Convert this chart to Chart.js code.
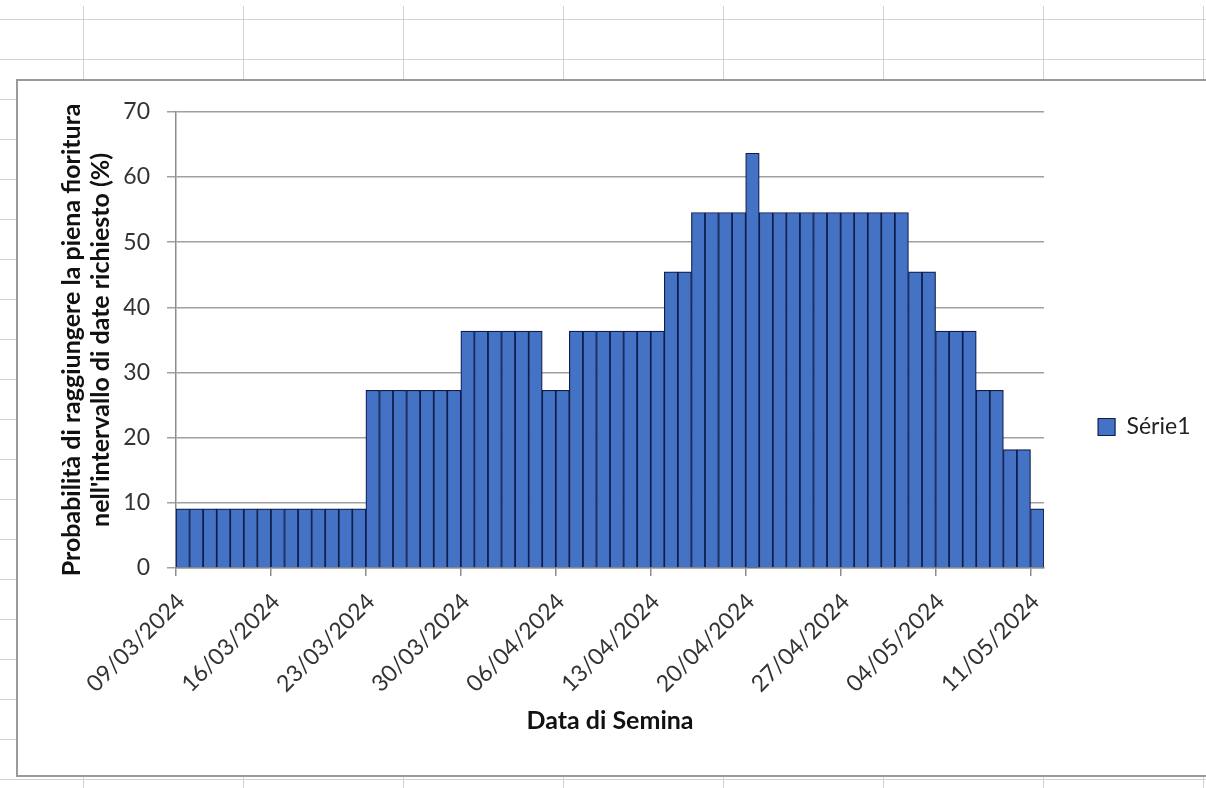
<!DOCTYPE html>
<html>
<head>
<meta charset="utf-8">
<script src="https://cdn.jsdelivr.net/npm/chart.js@4/dist/chart.umd.min.js"></script>
<style>
  html, body { margin: 0; padding: 0; }
  body {
    width: 1206px; height: 788px; overflow: hidden; position: relative;
    background-color: #fff;
    background-image:
      linear-gradient(to right, #d2d2d2 1px, transparent 1px),
      linear-gradient(to bottom, #d2d2d2 1px, transparent 1px);
    background-size: 160px 788px, 1206px 40px;
    background-position: 83px 6px, 0 19px;
    background-repeat: repeat-x, repeat-y;
  }
  #frame {
    position: absolute; left: 16px; top: 79px; width: 1200px; height: 694px;
    border: 2px solid #9a9a9a; background: #fff;
  }
  #chart { position: absolute; left: 18px; top: 81px; }
</style>
</head>
<body>
<div id="frame"></div>
<canvas id="chart" width="1188" height="692"></canvas>
<script>
// Sowing dates (one bar per day)
const dates = [
  '09/03/2024','10/03/2024','11/03/2024','12/03/2024','13/03/2024','14/03/2024','15/03/2024',
  '16/03/2024','17/03/2024','18/03/2024','19/03/2024','20/03/2024','21/03/2024','22/03/2024',
  '23/03/2024','24/03/2024','25/03/2024','26/03/2024','27/03/2024','28/03/2024','29/03/2024',
  '30/03/2024','31/03/2024','01/04/2024','02/04/2024','03/04/2024','04/04/2024','05/04/2024',
  '06/04/2024','07/04/2024','08/04/2024','09/04/2024','10/04/2024','11/04/2024','12/04/2024',
  '13/04/2024','14/04/2024','15/04/2024','16/04/2024','17/04/2024','18/04/2024','19/04/2024',
  '20/04/2024','21/04/2024','22/04/2024','23/04/2024','24/04/2024','25/04/2024','26/04/2024',
  '27/04/2024','28/04/2024','29/04/2024','30/04/2024','01/05/2024','02/05/2024','03/05/2024',
  '04/05/2024','05/05/2024','06/05/2024','07/05/2024','08/05/2024','09/05/2024','10/05/2024',
  '11/05/2024'
];

// Probability (%) of full flowering within the requested date window
const serie1 = [
  9.09, 9.09, 9.09, 9.09, 9.09, 9.09, 9.09,
  9.09, 9.09, 9.09, 9.09, 9.09, 9.09, 9.09,
  27.27, 27.27, 27.27, 27.27, 27.27, 27.27, 27.27,
  36.36, 36.36, 36.36, 36.36, 36.36, 36.36, 27.27,
  27.27, 36.36, 36.36, 36.36, 36.36, 36.36, 36.36,
  36.36, 45.45, 45.45, 54.55, 54.55, 54.55, 54.55,
  63.64, 54.55, 54.55, 54.55, 54.55, 54.55, 54.55,
  54.55, 54.55, 54.55, 54.55, 54.55, 45.45, 45.45,
  36.36, 36.36, 36.36, 27.27, 27.27, 18.18, 18.18,
  9.09
];

const seriesName = 'Série1';
const xTitle = 'Data di Semina';
const yTitle = ['Probabilità di raggiungere la piena fioritura', "nell'intervallo di date richiesto (%)"];
const yTicks = { min: 0, max: 70, step: 10 };
const xTickStep = 7;

const FONT = 'Lato, "Open Sans", sans-serif';

new Chart(document.getElementById('chart'), {
  type: 'bar',
  data: {
    datasets: [{
      label: seriesName,
      data: serie1.map((v, i) => ({ x: i + 0.5, y: v })),
      backgroundColor: '#4472c4',
      borderColor: '#0f1d4d',
      borderWidth: 1.2,
      borderSkipped: 'bottom',
      barPercentage: 1,
      categoryPercentage: 1
    }]
  },
  options: {
    responsive: false,
    animation: false,
    layout: { padding: { left: 0, top: 27, right: 5.5, bottom: 27 } },
    plugins: {
      tooltip: { enabled: false },
      legend: {
        position: 'right',
        labels: {
          font: { family: FONT, size: 23 },
          color: '#222',
          boxWidth: 17,
          boxHeight: 17,
          padding: 54
        }
      }
    },
    scales: {
      x: {
        type: 'linear',
        min: 0,
        max: dates.length,
        offset: false,
        afterFit: s => { s.height = 178; },
        grid: { display: true, offset: false, drawOnChartArea: false, drawTicks: true, tickLength: 8, color: '#8c8c8c', lineWidth: 1.5 },
        border: { display: true, color: '#8c8c8c', width: 1.5 },
        ticks: {
          stepSize: xTickStep,
          includeBounds: false,
          autoSkip: false,
          minRotation: 45,
          maxRotation: 45,
          padding: 12,
          labelOffset: 5,
          color: '#333',
          font: { family: FONT, size: 23 },
          callback: v => dates[v] ?? ''
        },
        title: {
          display: true,
          text: xTitle,
          color: '#111',
          font: { family: FONT, size: 25, weight: 'bold' },
          padding: { top: 0, bottom: 10 }
        }
      },
      y: {
        min: yTicks.min,
        max: yTicks.max,
        afterFit: s => { s.width = 158; },
        grid: { color: '#a0a0a0', lineWidth: 1.5, tickLength: 9 },
        border: { display: true, color: '#8c8c8c', width: 1.5 },
        ticks: {
          stepSize: yTicks.step,
          padding: 17,
          color: '#333',
          font: { family: FONT, size: 23 }
        },
        title: {
          display: true,
          text: yTitle,
          color: '#111',
          font: { family: FONT, size: 25, weight: 'bold', lineHeight: 1.14 },
          padding: { top: 40, bottom: 0 }
        }
      }
    }
  }
});
</script>
</body>
</html>
